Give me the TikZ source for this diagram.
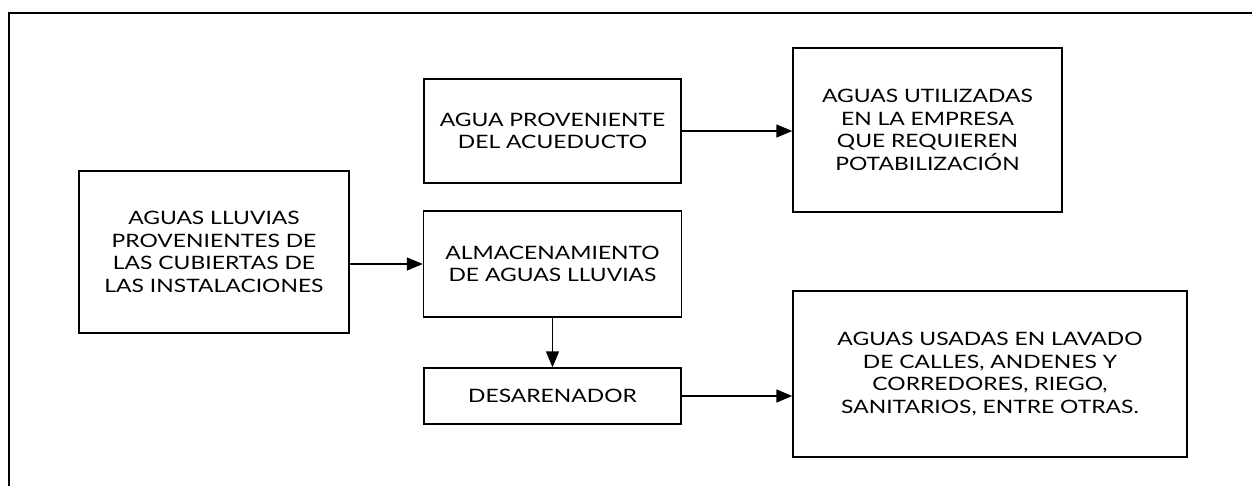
\documentclass[tikz,border=0pt]{standalone}
\usepackage{fontspec}
\setmainfont[FakeStretch=1.24]{Lato}
\usetikzlibrary{arrows.meta,positioning}

\tikzset{
  caja/.style={draw, line width=0.8pt, align=center, inner sep=2pt,
    font=\fontsize{10.5}{12.8}\selectfont},
  flecha/.style={-{Triangle[length=0.32cm,width=0.26cm]}, line width=0.8pt}
}

\begin{document}
\begin{tikzpicture}[x=0.02cm, y=-0.02cm]
        \useasboundingbox (0, 0) rectangle (1252, 485);
        \clip (0, 0) rectangle (1252, 485);
        \draw[line width=0.8pt] (9, 13) rectangle (1300, 540);

        \node[caja, minimum width=270*0.02cm, minimum height=162*0.02cm] (lluvias) at (214, 252)
            {AGUAS LLUVIAS\\PROVENIENTES DE\\LAS CUBIERTAS DE\\LAS INSTALACIONES};
        \node[caja, minimum width=257*0.02cm, minimum height=104*0.02cm] (acueducto) at (552.5, 131)
            {AGUA PROVENIENTE\\DEL ACUEDUCTO};
        \node[caja, minimum width=258*0.02cm, minimum height=106*0.02cm] (almacen) at (552.5, 264)
            {ALMACENAMIENTO\\DE AGUAS LLUVIAS};
        \node[caja, minimum width=257*0.02cm, minimum height=56*0.02cm] (desarenador) at (552.5, 396)
            {DESARENADOR};
        \node[caja, minimum width=269*0.02cm, minimum height=164*0.02cm] (utilizadas) at (927.5, 130)
            {AGUAS UTILIZADAS\\EN LA EMPRESA\\QUE REQUIEREN\\POTABILIZACIÓN};
        \node[caja, minimum width=394*0.02cm, minimum height=166*0.02cm] (usadas) at (990, 374)
            {AGUAS USADAS EN LAVADO\\DE CALLES, ANDENES Y\\CORREDORES, RIEGO,\\SANITARIOS, ENTRE OTRAS.};

        \draw[flecha] (lluvias.east |- almacen.west) -- (almacen.west);
        \draw[flecha] (acueducto.east) -- (acueducto.east -| utilizadas.west);
        \draw[flecha] (almacen.south) -- (desarenador.north);
        \draw[flecha] (desarenador.east) -- (desarenador.east -| usadas.west);
\end{tikzpicture}
\end{document}
